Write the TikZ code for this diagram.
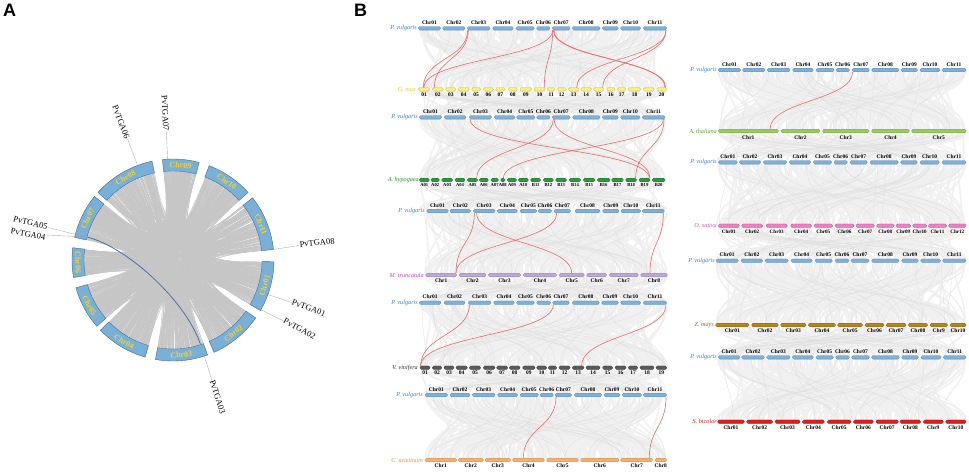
\documentclass[tikz,border=0pt]{standalone}
\usepackage{fontspec}
\setmainfont{Liberation Serif}
\newfontfamily\panelfont{Liberation Sans}
\definecolor{ringblue}{HTML}{7AB0D8}
\definecolor{ringedge}{HTML}{3F6A8E}
\definecolor{ringtext}{HTML}{F2D12A}
\definecolor{chordgray}{HTML}{C6C6C6}
\definecolor{bluelink}{HTML}{4A6FA8}
\definecolor{linkred}{HTML}{EC6A6A}
\definecolor{pvfill}{HTML}{7EB0D8}\definecolor{pvedge}{HTML}{5A8CB8}\definecolor{pvtext}{HTML}{3C82C8}
\definecolor{gmfill}{HTML}{F8EE88}\definecolor{gmedge}{HTML}{C8B840}\definecolor{gmtext}{HTML}{D8CC30}
\definecolor{ahfill}{HTML}{2A9A3A}\definecolor{ahedge}{HTML}{1A6A2A}\definecolor{ahtext}{HTML}{2A8A2A}
\definecolor{mtfill}{HTML}{BCA8D8}\definecolor{mtedge}{HTML}{9080B0}\definecolor{mttext}{HTML}{C040C8}
\definecolor{vvfill}{HTML}{5A5A5A}\definecolor{vvedge}{HTML}{383838}\definecolor{vvtext}{HTML}{303030}
\definecolor{cafill}{HTML}{F4B070}\definecolor{caedge}{HTML}{D08840}\definecolor{catext}{HTML}{E8902A}
\definecolor{atfill}{HTML}{98CC60}\definecolor{atedge}{HTML}{70A040}\definecolor{attext}{HTML}{5AA02A}
\definecolor{osfill}{HTML}{EC80C0}\definecolor{osedge}{HTML}{C05090}\definecolor{ostext}{HTML}{E050A0}
\definecolor{zmfill}{HTML}{B88418}\definecolor{zmedge}{HTML}{8A6010}\definecolor{zmtext}{HTML}{9A6A10}
\definecolor{sbfill}{HTML}{E01C1C}\definecolor{sbedge}{HTML}{A01010}\definecolor{sbtext}{HTML}{E01010}
\tikzset{
  chrlab/.style={font=\bfseries\fontsize{5.5}{6}\selectfont, inner sep=0pt},
  sp/.style={font=\itshape\fontsize{6.2}{7}\selectfont, inner sep=0pt, anchor=east},
  redlink/.style={draw=linkred, line width=0.6pt},
  glinkA/.style={draw=gray!12, line width=1.4pt},
  glinkB/.style={draw=gray!24, line width=0.3pt},
  chord/.style={draw=chordgray, line width=0.5pt},
  ringlab/.style={font=\bfseries\fontsize{8}{8}\selectfont, text=ringtext, inner sep=0pt},
  gene/.style={font=\fontsize{8.5}{9}\selectfont, inner sep=0.5pt},
  gline/.style={draw=gray!60, line width=0.4pt},
  panel/.style={font=\panelfont\bfseries\fontsize{18}{18}\selectfont, inner sep=0pt, anchor=north west}
}
% #1 xoff, #2 y, #3 fill, #4 edge, #5 label dy, #6 name prefix, #7 list za/zb/text
\newcommand\chrrow[7]{%
  \foreach \a/\b/\t [count=\n] in {#7}{%
    \draw[fill=#3, draw=#4, line width=0.3pt, rounded corners=1.5pt] ({#1+\a/3},#2-1.8) rectangle ({#1+\b/3},#2+1.8);
    \node[chrlab] (#6\n) at ({#1+(\a+\b)/6},#2+#5) {\t};
  }}
% #1 xoff, #2 ytop, #3 ybot, #4 za, #5 zb
\newcommand\rlink[5]{\draw[redlink] ({#1+#4/3},#2) .. controls ({#1+#4/3},{(#2+#3)/2}) and ({#1+#5/3},{(#2+#3)/2}) .. ({#1+#5/3},#3);}
% #1 xa, #2 xb, #3 ytop, #4 ybot, #5 n
\newcommand\gband[5]{%
  \foreach \k in {1,...,#5}{%
    \pgfmathsetmacro\xa{#1+rnd*(#2-#1)}\pgfmathsetmacro\xb{#1+rnd*(#2-#1)}%
    \draw[glinkA] (\xa,#3) .. controls (\xa,{(#3+#4)/2}) and (\xb,{(#3+#4)/2}) .. (\xb,#4);
  }
  \foreach \k in {1,...,40}{%
    \pgfmathsetmacro\xa{#1+rnd*(#2-#1)}\pgfmathsetmacro\xb{#1+rnd*(#2-#1)}%
    \draw[glinkB] (\xa,#3) .. controls (\xa,{(#3+#4)/2}) and (\xb,{(#3+#4)/2}) .. (\xb,#4);
  }}
\def\chrS{{-30,-66,-100,-136,-164,173,141,102,75,42,6}}
\def\chrE{{-1,-35,-70,-106,-139,190,167,138,96,69,38}}
\begin{document}
\begin{tikzpicture}[x=1pt,y=-1pt]
\useasboundingbox[fill=white] (0,0) rectangle (969,472);
\pgfmathsetseed{11}
\node[panel] (labA) at (3,4) {A};
\node[panel] (labB) at (354,4) {B};

% ---------------- Panel A: circos ----------------
\begin{scope}[shift={(173,260)}, yscale=-1]
  \foreach \k in {1,...,1000}{%
    \pgfmathrandominteger{\ia}{0}{10}\pgfmathrandominteger{\ib}{0}{10}%
    \pgfmathsetmacro\aa{\chrS[\ia]+rnd*(\chrE[\ia]-\chrS[\ia])}%
    \pgfmathsetmacro\ab{\chrS[\ib]+rnd*(\chrE[\ib]-\chrS[\ib])}%
    \draw[chord] (\aa:88.5) .. controls (\aa:15) and (\ab:15) .. (\ab:88.5);
  }
  \draw[draw=bluelink, line width=0.8pt] (165:88.5) .. controls (165:45) and (-72:45) .. (-72:88.5);
  \foreach \s/\e/\t in {-30/-1/Chr01,-66/-35/Chr02,-100/-70/Chr03,-136/-106/Chr04,-164/-139/Chr05,173/190/Chr06,141/167/Chr07,102/138/Chr08,75/96/Chr09,42/69/Chr10,6/38/Chr11}{%
    \draw[fill=ringblue, draw=ringedge, line width=0.4pt] (\s:89) arc[start angle=\s, end angle=\e, radius=89] -- (\e:101) arc[start angle=\e, end angle=\s, radius=101] -- cycle;
    \pgfmathsetmacro\m{(\s+\e)/2}%
    \pgfmathsetmacro\rot{ifthenelse(and(\m>0,\m<180),\m-90,\m+90)}%
    \node[ringlab, rotate=\rot] (\t) at (\m:95) {\t};
  }
  \coordinate (q07) at (93:101);
  \node[gene, anchor=east, rotate=-87] (PvTGA07) at (93:129) {PvTGA07};
  \draw[gline] (q07) -- (PvTGA07);
  \coordinate (q06) at (110.5:101);
  \node[gene, anchor=east, rotate=-69.5] (PvTGA06) at (110.7:129) {PvTGA06};
  \draw[gline] (q06) -- (PvTGA06);
  \coordinate (q05) at (165.3:101);
  \node[gene, anchor=east, rotate=-14.5] (PvTGA05) at (165.4:129) {PvTGA05};
  \draw[gline] (q05) -- (PvTGA05);
  \coordinate (q04) at (166.5:101);
  \node[gene, anchor=east, rotate=-10.5] (PvTGA04) at (169.9:129) {PvTGA04};
  \draw[gline] (q04) -- (PvTGA04);
  \coordinate (q08) at (6:101);
  \node[gene, anchor=west, rotate=6] (PvTGA08) at (7:127) {PvTGA08};
  \draw[gline] (q08) -- (PvTGA08);
  \coordinate (q01) at (-20:101);
  \node[gene, anchor=west, rotate=-20] (PvTGA01) at (-19.5:126) {PvTGA01};
  \draw[gline] (q01) -- (PvTGA01);
  \coordinate (q02) at (-29.5:101);
  \node[gene, anchor=west, rotate=-29] (PvTGA02) at (-28.5:126) {PvTGA02};
  \draw[gline] (q02) -- (PvTGA02);
  \coordinate (q03) at (-72:101);
  \node[gene, anchor=west, rotate=-72] (PvTGA03) at (-72:126) {PvTGA03};
  \draw[gline] (q03) -- (PvTGA03);
\end{scope}

% ---------------- Panel B: gray background links ----------------
\gband{419}{667}{30}{87.5}{260}
\gband{419}{667}{91}{115.5}{130}
\gband{419}{667}{119}{178}{260}
\gband{419}{667}{182}{209}{130}
\gband{424}{667}{213}{273}{260}
\gband{422}{667}{277}{301}{130}
\gband{420}{667}{304.5}{366}{260}
\gband{420}{667}{369.5}{393}{130}
\gband{425}{667}{397}{458}{260}
\gband{717}{966}{72}{129}{260}
\gband{717}{966}{133}{160.5}{130}
\gband{717}{966}{164}{224}{260}
\gband{717}{966}{227.5}{259}{130}
\gband{716}{966}{262.5}{323}{260}
\gband{716}{966}{327}{355.5}{130}
\gband{717}{966}{359}{420}{260}

% ---------------- Left column ----------------
\chrrow{380}{28.3}{pvfill}{pvedge}{-5.6}{La}{115/182/Chr01,188/255/Chr02,262/330/Chr03,338/400/Chr04,408/463/Chr05,470/510/Chr06,517/570/Chr07,577/660/Chr08,667/715/Chr09,722/782/Chr10,790/860/Chr11}
\chrrow{380}{89.3}{gmfill}{gmedge}{5.4}{Lb}{115/150/01,157/190/02,197/228/03,234/268/04,275/302/05,310/340/06,347/375/07,385/412/08,420/455/09,462/495/10,502/525/11,532/558/12,565/597/13,602/635/14,640/672/15,680/705/16,712/737/17,745/782/18,790/823/19,830/860/20}
\node[sp, text=pvtext] (sLa) at (417,28.3) {P. vulgaris};
\node[sp, text=gmtext] (sLb) at (416,89.3) {G. max};
\foreach \p/\q in {263/130,265/163,518/132,518/493,520/855,522/857,858/590,858/668}{\rlink{380}{30.1}{87.5}{\p}{\q}}

\chrrow{380}{117.3}{pvfill}{pvedge}{-5.6}{Lc}{118/185/Chr01,193/258/Chr02,268/335/Chr03,343/405/Chr04,410/465/Chr05,470/510/Chr06,517/570/Chr07,578/660/Chr08,667/715/Chr09,722/780/Chr10,787/855/Chr11}
\begin{scope}[chrlab/.style={font=\bfseries\fontsize{4.6}{5}\selectfont, inner sep=0pt}]
\chrrow{380}{180}{ahfill}{ahedge}{5.4}{Ld}{118/148/A01,153/178/A02,185/218/A03,225/255/A04,262/293/A05,298/325/A06,333/355/A07,362/375/A08,382/410/A09,415/445/A10,452/482/B11,490/520/B12,527/560/B13,568/602/B14,610/645/B15,652/690/B16,695/730/B17,737/770/B18,777/810/B19,817/855/B20}
\end{scope}
\node[sp, text=pvtext] (sLc) at (418,117.3) {P. vulgaris};
\node[sp, text=ahtext] (sLd) at (419,180) {A. hypogaea};
\foreach \p/\q in {270/808,520/290,522/810,850/370,852/767}{\rlink{380}{119.1}{178.2}{\p}{\q}}

\chrrow{380}{211}{pvfill}{pvedge}{-5.6}{Le}{140/205/Chr01,210/272/Chr02,280/345/Chr03,352/412/Chr04,420/470/Chr05,475/515/Chr06,522/572/Chr07,585/660/Chr08,668/717/Chr09,723/782/Chr10,787/853/Chr11}
\chrrow{380}{275}{mtfill}{mtedge}{5.6}{Lf}{137/230/Chr1,237/318/Chr2,325/422/Chr3,430/530/Chr4,537/613/Chr5,620/680/Chr6,688/775/Chr7,782/862/Chr8}
\node[sp, text=pvtext] (sLe) at (425,211) {P. vulgaris};
\node[sp, text=mttext] (sLf) at (424,275) {M. truncatula};
\foreach \p/\q in {283/228,290/575,530/228,850/810}{\rlink{380}{212.8}{273.2}{\p}{\q}}

\chrrow{380}{302.7}{pvfill}{pvedge}{-5.6}{Lg}{118/183/Chr01,192/255/Chr02,265/333/Chr03,341/403/Chr04,410/463/Chr05,470/512/Chr06,518/568/Chr07,577/658/Chr08,665/715/Chr09,722/782/Chr10,790/860/Chr11}
\chrrow{380}{367.7}{vvfill}{vvedge}{5.4}{Lh}{120/150/01,157/185/02,192/222/03,228/262/04,268/302/05,310/345/06,350/383/07,388/420/08,428/465/09,470/500/10,505/530/11,537/570/12,577/612/13,618/660/14,668/698/15,705/738/16,745/773/17,780/822/18,828/860/19}
\node[sp, text=pvtext] (sLg) at (418,302.7) {P. vulgaris};
\node[sp, text=vvtext] (sLh) at (418,367.7) {V. vinifera};
\foreach \p/\q in {268/122,520/122,858/605}{\rlink{380}{304.5}{365.9}{\p}{\q}}

\chrrow{380}{395}{pvfill}{pvedge}{-5.6}{Li}{135/203/Chr01,210/270/Chr02,277/345/Chr03,353/413/Chr04,420/475/Chr05,480/520/Chr06,525/575/Chr07,583/665/Chr08,672/720/Chr09,727/785/Chr10,790/860/Chr11}
\chrrow{380}{460}{cafill}{caedge}{5.6}{Lj}{135/230/Chr1,235/310/Chr2,315/392/Chr3,398/493/Chr4,500/595/Chr5,602/717/Chr6,722/818/Chr7,825/860/Chr8}
\node[sp, text=pvtext] (sLi) at (423,395) {P. vulgaris};
\node[sp, text=catext] (sLj) at (423,460) {C. arietinum};
\foreach \p/\q in {528/430,858/808}{\rlink{380}{396.8}{458.2}{\p}{\q}}

% ---------------- Right column ----------------
\chrrow{680}{70}{pvfill}{pvedge}{-5.6}{Ra}{115/182/Chr01,188/255/Chr02,262/330/Chr03,338/400/Chr04,408/462/Chr05,468/508/Chr06,517/568/Chr07,575/657/Chr08,663/713/Chr09,720/780/Chr10,786/858/Chr11}
\chrrow{680}{131}{atfill}{atedge}{6.2}{Rb}{115/295/Chr1,303/420/Chr2,428/567/Chr3,575/688/Chr4,695/858/Chr5}
\node[sp, text=pvtext] (sRa) at (717,70) {P. vulgaris};
\node[sp, text=attext] (sRb) at (717,131) {A. thaliana};
\rlink{680}{71.8}{129.2}{518}{270}

\chrrow{680}{162.3}{pvfill}{pvedge}{-5.6}{Rc}{115/172/Chr01,178/242/Chr02,250/320/Chr03,328/392/Chr04,400/455/Chr05,462/502/Chr06,510/562/Chr07,570/655/Chr08,662/712/Chr09,720/778/Chr10,786/858/Chr11}
\begin{scope}[chrlab/.style={font=\bfseries\fontsize{5.1}{5.5}\selectfont, inner sep=0pt}]
\chrrow{680}{225.7}{osfill}{osedge}{5.6}{Rd}{115/178/Chr01,185/248/Chr02,258/322/Chr03,332/395/Chr04,402/458/Chr05,465/522/Chr06,528/583/Chr07,590/642/Chr08,648/692/Chr09,698/740/Chr10,745/800/Chr11,806/858/Chr12}
\end{scope}
\node[sp, text=pvtext] (sRc) at (717,162.3) {P. vulgaris};
\node[sp, text=ostext] (sRd) at (717,225.7) {O. sativa};

\chrrow{680}{260.7}{pvfill}{pvedge}{-5.6}{Re}{108/175/Chr01,183/248/Chr02,255/325/Chr03,333/397/Chr04,405/457/Chr05,465/507/Chr06,513/567/Chr07,575/657/Chr08,665/715/Chr09,722/782/Chr10,788/858/Chr11}
\chrrow{680}{325}{zmfill}{zmedge}{5.6}{Rf}{107/207/Chr01,215/295/Chr02,302/378/Chr03,385/467/Chr04,473/548/Chr05,555/612/Chr06,618/678/Chr07,685/743/Chr08,750/803/Chr9,810/858/Chr10}
\node[sp, text=pvtext] (sRe) at (715,260.7) {P. vulgaris};
\node[sp, text=zmtext] (sRf) at (714,325) {Z. mays};

\chrrow{680}{357.3}{pvfill}{pvedge}{-5.6}{Rg}{115/180/Chr01,185/253/Chr02,260/330/Chr03,337/400/Chr04,408/460/Chr05,467/508/Chr06,515/568/Chr07,575/658/Chr08,665/715/Chr09,723/783/Chr10,790/858/Chr11}
\chrrow{680}{421.7}{sbfill}{sbedge}{5.6}{Rh}{113/193/Chr01,200/278/Chr02,285/360/Chr03,367/433/Chr04,442/513/Chr05,520/580/Chr06,588/655/Chr07,660/722/Chr08,730/790/Chr9,797/858/Chr10}
\node[sp, text=pvtext] (sRg) at (717,357.3) {P. vulgaris};
\node[sp, text=sbtext] (sRh) at (717,421.7) {S. bicolor};
\end{tikzpicture}
\end{document}
